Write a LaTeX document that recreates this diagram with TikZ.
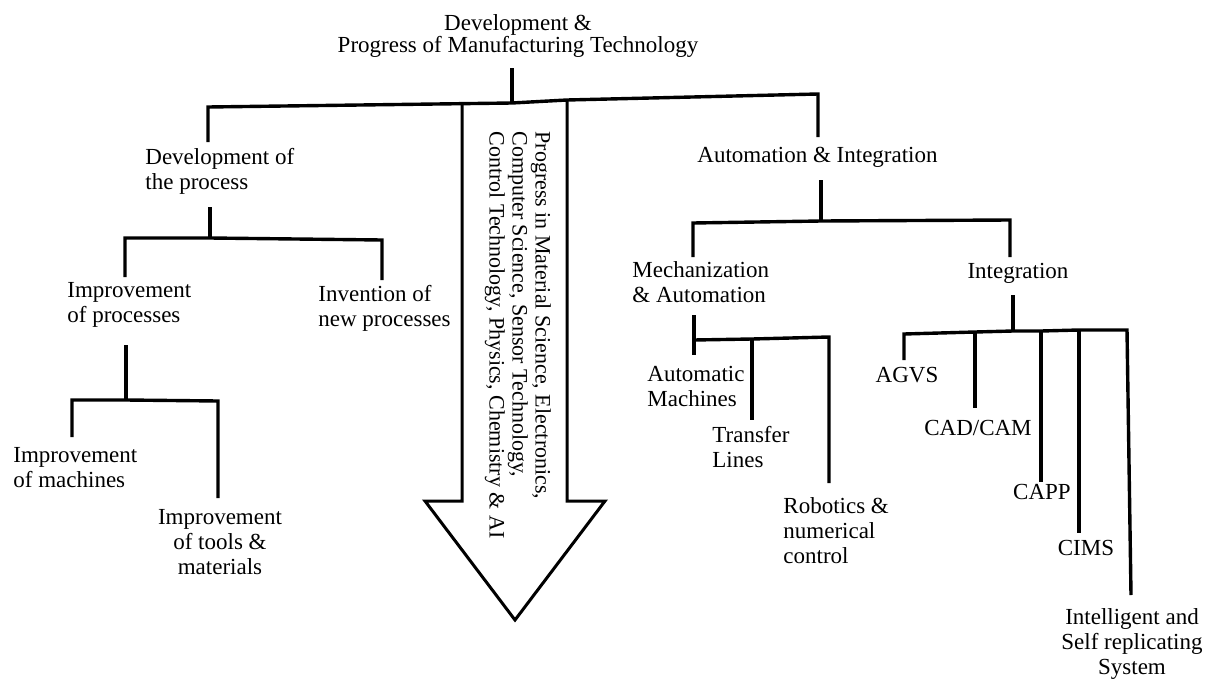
\documentclass[tikz,border=0pt]{standalone}
\usepackage{fontspec}
\setmainfont{Liberation Serif}
\begin{document}
\begin{tikzpicture}[x=0.5pt,y=-0.5pt,
  font=\fontsize{11.5}{12.5}\selectfont,
  lbl/.style={inner sep=0pt, align=left, anchor=west},
  clbl/.style={inner sep=0pt, align=center, anchor=center},
  ln/.style={line width=1.7pt, line join=miter},
  arw/.style={line width=1.5pt, line join=miter}]
\useasboundingbox (0,0) rectangle (1220,685);

% ---- text nodes ----
\node[clbl, font=\fontsize{11.5}{11}\selectfont] (title) at (518,36) {Development \&\\Progress of Manufacturing Technology};
\node[lbl] (dev) at (145,171) {Development of\\the process};
\node[lbl] (auto) at (697,157) {Automation \& Integration};
\node[lbl] (impr) at (67,305) {Improvement\\of processes};
\node[lbl] (inv) at (318,308) {Invention of\\new processes};
\node[lbl] (mach) at (13,468) {Improvement\\of machines};
\node[clbl] (tools) at (220,542) {Improvement\\of tools \&\\materials};
\node[lbl] (mech) at (632,282) {Mechanization\\\& Automation};
\node[lbl] (autom) at (647,386) {Automatic\\Machines};
\node[lbl] (transfer) at (712,447) {Transfer\\Lines};
\node[lbl] (robot) at (783,531) {Robotics \&\\numerical\\control};
\node[clbl] (integ) at (1018,273) {Integration};
\node[clbl] (agvs) at (907,375) {AGVS};
\node[clbl] (cadcam) at (978,428) {CAD/CAM};
\node[clbl] (capp) at (1042,492) {CAPP};
\node[clbl] (cims) at (1086,548) {CIMS};
\node[clbl] (intel) at (1132,644) {Intelligent and\\Self replicating\\System};

% ---- big arrow ----
\coordinate (aL) at (462,105);
\coordinate (aLb) at (462,501);
\coordinate (aLw) at (425,501);
\coordinate (aTip) at (515,620);
\coordinate (aRw) at (605,501);
\coordinate (aRb) at (567,501);
\coordinate (aR) at (567,100);
\draw[arw] (aL) -- (aLb) -- (aLw) -- (aTip) -- (aRw) -- (aRb) -- (aR);
\node[inner sep=0pt, align=left, rotate=-90, font=\fontsize{11}{11.5}\selectfont] (prog) at (518,335)
  {Progress in Material Science, Electronics,\\Computer Science, Sensor Technology,\\Control Technology, Physics, Chemistry \& AI};

% ---- top level ----
\coordinate (tS) at (512,68);
\coordinate (tJ) at (512,103);
\coordinate (hL) at (208,107);
\coordinate (hLb) at (208,142);
\coordinate (hR) at (818,94);
\coordinate (hRb) at (818,137);
\draw[ln] (tS) -- (tJ);
\draw[ln] (hLb) -- (hL) -- (tJ) -- (aR) -- (hR) -- (hRb);

% ---- development of the process ----
\coordinate (dS) at (210,207);
\coordinate (dJ) at (210,238);
\coordinate (dL) at (125,238);
\coordinate (dLb) at (125,277);
\coordinate (dR) at (382,240);
\coordinate (dRb) at (382,280);
\draw[ln] (dS) -- (dJ);
\draw[ln] (dLb) -- (dL) -- (dJ) -- (dR) -- (dRb);

\coordinate (iS) at (126,345);
\coordinate (iJ) at (126,400);
\coordinate (iL) at (72,400);
\coordinate (iLb) at (72,437);
\coordinate (iR) at (218,401);
\coordinate (iRb) at (218,498);
\draw[ln] (iS) -- (iJ);
\draw[ln] (iLb) -- (iL) -- (iJ) -- (iR) -- (iRb);

% ---- automation & integration ----
\coordinate (uS) at (821,180);
\coordinate (uJ) at (821,221);
\coordinate (uL) at (693,223);
\coordinate (uLb) at (693,257);
\coordinate (uR) at (1010,220);
\coordinate (uRb) at (1010,257);
\draw[ln] (uS) -- (uJ);
\draw[ln] (uLb) -- (uL) -- (uJ) -- (uR) -- (uRb);

\coordinate (mS) at (694,315);
\coordinate (mE) at (694,355);
\coordinate (mJ) at (694,340);
\coordinate (mT) at (752,339);
\coordinate (mTb) at (752,420);
\coordinate (mR) at (829,337);
\coordinate (mRb) at (829,483);
\draw[ln] (mS) -- (mE);
\draw[ln] (mJ) -- (mT) -- (mR) -- (mRb);
\draw[ln] (mT) -- (mTb);

\coordinate (gS) at (1013,295);
\coordinate (gJ) at (1013,331);
\coordinate (gL) at (904,334);
\coordinate (gLb) at (904,360);
\coordinate (g2) at (975,332);
\coordinate (g2b) at (975,408);
\coordinate (g3) at (1041,331);
\coordinate (g3b) at (1041,482);
\coordinate (g4) at (1079,330);
\coordinate (g4b) at (1079,533);
\coordinate (gR) at (1127,330);
\coordinate (gRb) at (1131,595);
\draw[ln] (gS) -- (gJ);
\draw[ln] (gLb) -- (gL) -- (g2) -- (gJ) -- (g3) -- (g4) -- (gR) -- (gRb);
\draw[ln] (g2) -- (g2b);
\draw[ln] (g3) -- (g3b);
\draw[ln] (g4) -- (g4b);
\end{tikzpicture}
\end{document}
